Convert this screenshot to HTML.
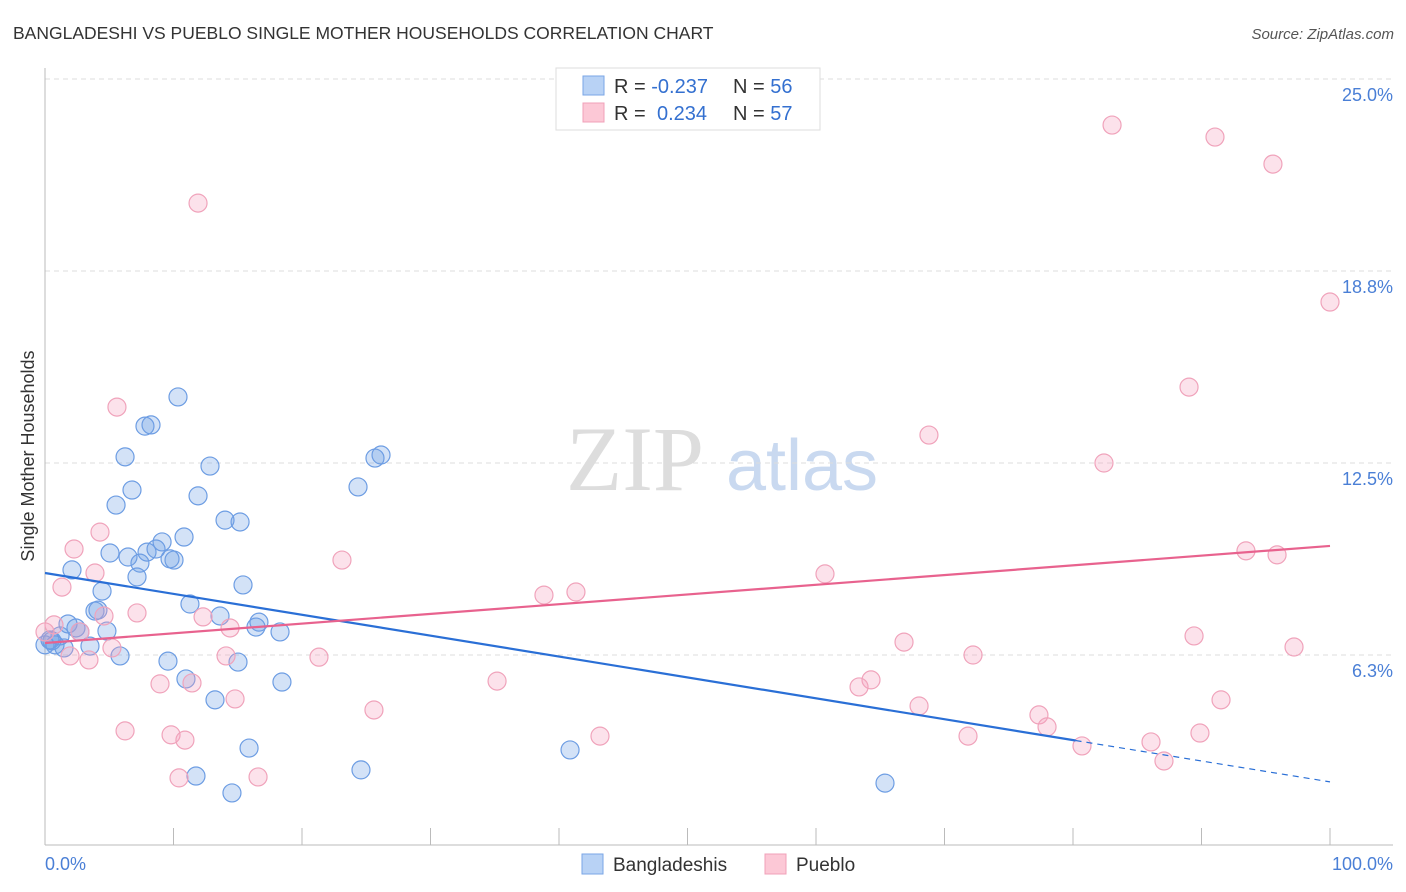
<!DOCTYPE html>
<html><head><meta charset="utf-8"><style>
body{margin:0;background:#fff;font-family:"Liberation Sans",sans-serif;}
svg{display:block}
</style></head><body>
<svg id="c" width="1406" height="892" xmlns="http://www.w3.org/2000/svg">
<text x="13" y="39" font-size="17.5" fill="#333">BANGLADESHI VS PUEBLO SINGLE MOTHER HOUSEHOLDS CORRELATION CHART</text>
<text x="1394" y="39" font-size="15" fill="#555" font-style="italic" text-anchor="end">Source: ZipAtlas.com</text>
<g>
<text x="635" y="490" font-size="92" fill="#ddd" font-family="Liberation Serif,serif" text-anchor="middle">ZIP</text>
<text x="802" y="490" font-size="72" fill="#c9d9f0" text-anchor="middle">atlas</text>
</g>
<g id="grid"></g>
<g id="axes"></g>
<g id="pts"></g>
<g id="lines"></g>
<text transform="translate(34,456) rotate(-90)" font-size="18" fill="#333" text-anchor="middle">Single Mother Households</text>
<text x="45" y="870" font-size="18" fill="#4a7fd6">0.0%</text>
<text x="1393" y="870" font-size="18" fill="#4a7fd6" text-anchor="end">100.0%</text>
<g>
<rect x="556" y="68" width="264" height="62" fill="#fff" stroke="#ddd"/>
<rect x="583" y="76" width="21" height="19" fill="#b8d2f5" stroke="#7aa6e6"/>
<rect x="583" y="103" width="21" height="19" fill="#fcc8d6" stroke="#f0a0b8"/>
<text x="614" y="93" font-size="20" fill="#333">R = <tspan fill="#3470d0">-0.237</tspan><tspan x="733">N = </tspan><tspan fill="#3470d0">56</tspan></text>
<text x="614" y="120" font-size="20" fill="#333">R = <tspan x="657" fill="#3470d0">0.234</tspan><tspan x="733">N = </tspan><tspan fill="#3470d0">57</tspan></text>
</g>
<g>
<rect x="582" y="854" width="21" height="20" fill="#b8d2f5" stroke="#7aa6e6"/>
<text x="613" y="871" font-size="19" fill="#333">Bangladeshis</text>
<rect x="765" y="854" width="21" height="20" fill="#fcc8d6" stroke="#f0a0b8"/>
<text x="796" y="871" font-size="19" fill="#333">Pueblo</text>
</g>
</svg>
<script>
const yTicks=[6.25,12.5,18.75,25];
const yTickLabels=["6.3%","12.5%","18.8%","25.0%"];
const blueX=[10.35,7.78,8.25,6.23,12.84,6.77,11.91,5.53,14.01,15.18,10.82,9.11,5.06,7.94,8.64,6.46,7.39,9.73,10.04,2.10,7.16,15.41,4.44,11.28,3.89,4.12,13.62,16.65,16.42,1.79,2.41,2.72,4.82,18.29,1.17,0.54,0,0.78,3.50,1.48,5.84,9.57,15.02,10.97,18.44,13.23,24.36,25.68,26.15,15.88,24.59,14.55,11.75,40.86,65.37,0.39];
const blueY=[14.65,13.70,13.74,12.70,12.40,11.62,11.43,11.13,10.64,10.58,10.09,9.93,9.57,9.60,9.70,9.44,9.24,9.38,9.34,9.02,8.79,8.53,8.33,7.91,7.68,7.71,7.52,7.32,7.16,7.26,7.13,7.00,7.03,7.00,6.87,6.71,6.58,6.58,6.54,6.48,6.22,6.05,6.02,5.47,5.37,4.79,11.72,12.66,12.76,3.22,2.51,1.76,2.31,3.16,2.08,6.74];
const pinkX=[11.91,83.04,91.05,95.56,100,89.03,5.60,68.79,82.41,4.28,2.26,93.46,95.88,23.11,3.89,60.70,1.32,41.32,38.83,4.59,7.16,12.30,14.40,0.70,2.72,89.42,66.85,97.20,5.21,1.95,14.09,3.42,21.32,72.22,8.95,11.44,35.18,64.28,63.35,14.79,91.52,25.60,68.02,77.35,77.98,6.23,9.81,10.89,43.19,71.83,89.88,80.70,86.07,87.08,10.43,16.58,0];
const pinkY=[20.96,23.50,23.11,22.23,17.74,14.97,14.32,13.41,12.50,10.25,9.70,9.64,9.51,9.34,8.92,8.89,8.46,8.30,8.20,7.52,7.62,7.49,7.13,7.23,7.00,6.87,6.67,6.51,6.48,6.22,6.22,6.09,6.18,6.25,5.31,5.34,5.40,5.44,5.21,4.82,4.79,4.46,4.59,4.30,3.91,3.78,3.65,3.48,3.61,3.61,3.71,3.29,3.42,2.80,2.25,2.28,7.00];
const blueTrend=[8.92,2.12];
const pinkTrend=[6.64,9.80];
const blueSolidEnd=80.2;
const NS="http://www.w3.org/2000/svg";
const X=v=>45+v*12.85, Y=v=>847-v*30.72;
function mk(t,a,p){const e=document.createElementNS(NS,t);for(const k in a)e.setAttribute(k,a[k]);p.appendChild(e);return e;}
const grid=document.getElementById('grid'),axes=document.getElementById('axes'),pts=document.getElementById('pts'),lines=document.getElementById('lines');
yTicks.forEach((t,i)=>{
 const l=mk('line',{x1:45,x2:1393,y1:Y(t),y2:Y(t),stroke:'#ddd','stroke-dasharray':'5,4'},grid);
 
 
 const tx=mk('text',{x:1393,y:Y(t)+22,'font-size':18,fill:'#4a7fd6','text-anchor':'end'},grid);
 tx.textContent=yTickLabels[i];
 
 
});
let a=mk('line',{x1:45,x2:45,y1:68,y2:845,stroke:'#bbb'},axes);


a=mk('line',{x1:45,x2:1393,y1:845,y2:845,stroke:'#bbb'},axes);


for(let i=0;i<=10;i++){
 const t=mk('line',{x1:X(i*10),x2:X(i*10),y1:828,y2:845,stroke:'#bbb'},axes);
 
 
}
function dots(xs,ys,fill,stroke,name){xs.forEach((x,i)=>{
 const c=mk('circle',{cx:X(x),cy:Y(ys[i]),r:9,fill:fill,stroke:stroke,'stroke-width':1.2},pts);
 
 
});}
dots(blueX,blueY,'rgba(110,160,230,0.3)','#6d9de3','bangladeshi-point');
dots(pinkX,pinkY,'rgba(245,160,190,0.3)','#f0a3bb','pueblo-point');
const by=v=>blueTrend[0]+(blueTrend[1]-blueTrend[0])*v/100;
let l=mk('line',{x1:X(0),y1:Y(by(0)),x2:X(blueSolidEnd),y2:Y(by(blueSolidEnd)),stroke:'#2a6fd6','stroke-width':2.2},lines);


l=mk('line',{x1:X(blueSolidEnd),y1:Y(by(blueSolidEnd)),x2:X(100),y2:Y(by(100)),stroke:'#2a6fd6','stroke-width':1.2,'stroke-dasharray':'6,5'},lines);


l=mk('line',{x1:X(0),y1:Y(pinkTrend[0]),x2:X(100),y2:Y(pinkTrend[1]),stroke:'#e8628e','stroke-width':2.2},lines);


</script>
</body></html>
